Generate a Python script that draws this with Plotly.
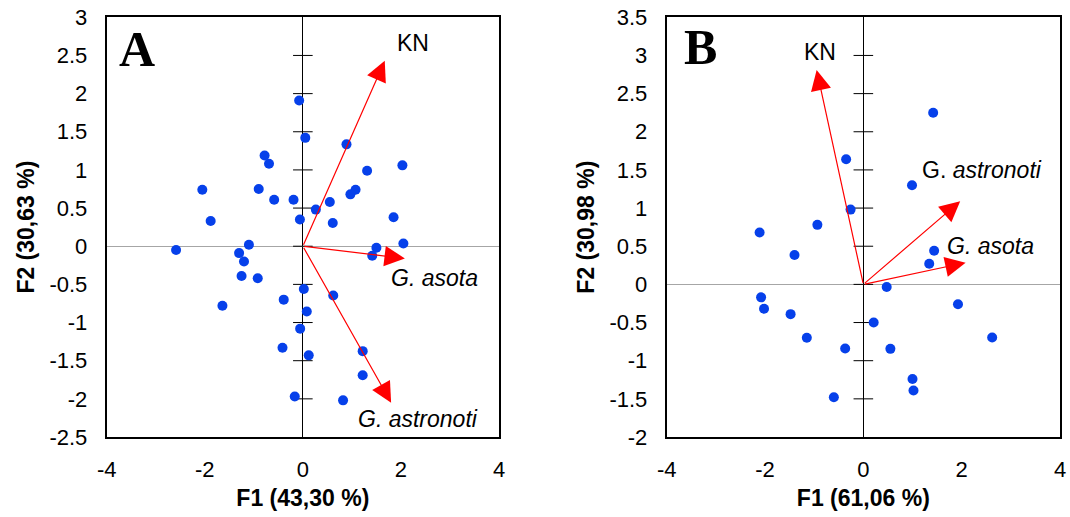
import numpy as np
import plotly.graph_objects as go

# ---- Panel A: observation scores ----
a_f1 = [-0.075, 0.05, 0.89, -0.78, -0.69, 2.03, 1.31, -2.05, -0.90, 1.075,
        0.97, -0.585, -0.19, 0.55, 0.265, -1.88, -0.06, 0.61, 1.85, 2.05,
        -2.585, -1.10, -1.30, -1.20, -1.25, -0.92, 1.50, 1.415, -1.64, 0.02,
        -0.39, 0.62, 0.08, -0.055, -0.415, 0.12, 1.22, 1.22, -0.165, 0.82]
a_f2 = [1.91, 1.42, 1.335, 1.19, 1.08, 1.06, 0.99, 0.74, 0.75, 0.74,
        0.68, 0.61, 0.61, 0.58, 0.48, 0.33, 0.35, 0.305, 0.38, 0.035,
        -0.05, 0.02, -0.09, -0.20, -0.39, -0.42, -0.02, -0.125, -0.78, -0.56,
        -0.70, -0.645, -0.855, -1.08, -1.33, -1.43, -1.375, -1.69, -1.97, -2.02]

# Panel A: variable loadings (arrows) and their labels
a_vec_names = ["KN", "<i>G. asota</i>", "<i>G. astronoti</i>"]
a_vec_f1 = [1.67, 2.08, 1.80]
a_vec_f2 = [2.43, -0.16, -2.05]
a_lab_f1 = [2.24, 2.69, 2.34]
a_lab_f2 = [2.66, -0.42, -2.26]

# ---- Panel B: observation scores ----
b_f1 = [1.42, -0.35, 0.99, -0.26, -0.935, -2.11, 1.44, -1.40, 1.34, 0.475,
        -2.08, -2.02, -1.48, 1.925, 0.21, -1.15, 2.62, -0.37, 0.55, 1.00,
        1.02, -0.60]
b_f2 = [2.25, 1.64, 1.30, 0.98, 0.78, 0.68, 0.44, 0.385, 0.27, -0.035,
        -0.17, -0.32, -0.39, -0.26, -0.50, -0.70, -0.695, -0.84, -0.845, -1.24,
        -1.39, -1.48]

b_vec_names = ["KN", "G. <i>astronoti</i>", "<i>G. asota</i>"]
b_vec_f1 = [-0.95, 1.97, 2.08]
b_vec_f2 = [2.81, 1.09, 0.285]
b_lab_f1 = [-0.89, 2.41, 2.58]
b_lab_f2 = [3.04, 1.50, 0.50]

# Axis settings
x_range = [-4, 4]
x_ticks = [-4, -2, 0, 2, 4]
a_y_range = [-2.5, 3]
b_y_range = [-2, 3.5]
a_title_x, a_title_y = "F1 (43,30 %)", "F2 (30,63 %)"
b_title_x, b_title_y = "F1 (61,06 %)", "F2 (30,98 %)"

FONT = "Liberation Sans, Arial, sans-serif"
SERIF = "Liberation Serif, Times New Roman, serif"
POINT_COLOR = "#0640ea"
ARROW_COLOR = "#ff0000"
TICK_SIZE = 22
TEXT_SIZE = 23


def tick_labels(values):
    # plain hyphen for negatives, as in spreadsheet-style axes
    return [f"{v:g}".replace("\u2212", "-") for v in values]


fig = go.Figure()

panels = [
    dict(xa="x", ya="y", f1=a_f1, f2=a_f2, vn=a_vec_names, vx=a_vec_f1, vy=a_vec_f2,
         lx=a_lab_f1, ly=a_lab_f2, yr=a_y_range),
    dict(xa="x2", ya="y2", f1=b_f1, f2=b_f2, vn=b_vec_names, vx=b_vec_f1, vy=b_vec_f2,
         lx=b_lab_f1, ly=b_lab_f2, yr=b_y_range),
]

for p in panels:
    # tick marks crossing the vertical axis at F1 = 0
    ticks = np.arange(p["yr"][0] + 0.5, p["yr"][1] - 0.25, 0.5)
    fig.add_trace(go.Scatter(
        x=[0] * len(ticks), y=ticks, xaxis=p["xa"], yaxis=p["ya"], mode="markers",
        marker=dict(symbol="line-ew", size=14, line=dict(width=1, color="black")),
        hoverinfo="skip", showlegend=False))
    # observation scores
    fig.add_trace(go.Scatter(
        x=p["f1"], y=p["f2"], xaxis=p["xa"], yaxis=p["ya"], mode="markers",
        marker=dict(size=10, color=POINT_COLOR), showlegend=False))
    # loading arrows from the origin
    for vx, vy in zip(p["vx"], p["vy"]):
        fig.add_annotation(
            x=vx, y=vy, xref=p["xa"], yref=p["ya"],
            ax=0, ay=0, axref=p["xa"], ayref=p["ya"],
            text="", showarrow=True, arrowhead=2, arrowsize=3.4, arrowwidth=1.2,
            arrowcolor=ARROW_COLOR, standoff=0, startstandoff=0)
    # loading labels
    for name, lx, ly in zip(p["vn"], p["lx"], p["ly"]):
        fig.add_annotation(
            x=lx, y=ly, xref=p["xa"], yref=p["ya"], text=name, showarrow=False,
            xanchor="center", yanchor="middle",
            font=dict(family=FONT, size=TEXT_SIZE, color="black"))

# Panel letters
for letter, px, py in [("A", 136.7, 49), ("B", 700, 47)]:
    fig.add_annotation(x=px / 1070, y=1 - py / 517, xref="paper", yref="paper",
                       text=f"<b>{letter}</b>", showarrow=False,
                       xanchor="center", yanchor="middle",
                       font=dict(family=SERIF, size=50, color="black"))

xaxis_common = dict(
    range=x_range, tickvals=x_ticks, ticktext=tick_labels(x_ticks),
    showgrid=False, zeroline=True, zerolinecolor="black",
    zerolinewidth=1, showline=True, linecolor="black", linewidth=2, mirror=True,
    ticks="outside", ticklen=12, tickcolor="rgba(0,0,0,0)",
    tickfont=dict(family=FONT, size=TICK_SIZE, color="black"),
    title_font=dict(family=FONT, size=TEXT_SIZE, color="black"), title_standoff=8,
    automargin=False,
)
yaxis_common = dict(
    showgrid=False, zeroline=True, zerolinecolor="#a6a6a6", zerolinewidth=1,
    showline=True, linecolor="black", linewidth=2, mirror=True,
    ticks="outside", ticklen=13, tickcolor="rgba(0,0,0,0)",
    tickfont=dict(family=FONT, size=TICK_SIZE, color="black"),
    title_font=dict(family=FONT, size=TEXT_SIZE, color="black"), title_standoff=8,
    automargin=False,
)

a_y_ticks = list(np.arange(a_y_range[0], a_y_range[1] + 0.01, 0.5))
b_y_ticks = list(np.arange(b_y_range[0], b_y_range[1] + 0.01, 0.5))

y_dom = [1 - 437 / 517, 1 - 17.3 / 517]
fig.update_layout(
    width=1070, height=517, margin=dict(l=0, r=0, t=0, b=0),
    paper_bgcolor="white", plot_bgcolor="white", showlegend=False,
    xaxis=dict(xaxis_common, domain=[106.7 / 1070, 499 / 1070], anchor="y",
               title_text=f"<b>{a_title_x}</b>"),
    yaxis=dict(yaxis_common, domain=y_dom, range=a_y_range, anchor="x",
               tickvals=a_y_ticks, ticktext=tick_labels(a_y_ticks),
               title_text=f"<b>{a_title_y}</b>"),
    xaxis2=dict(xaxis_common, domain=[666.7 / 1070, 1060 / 1070], anchor="y2",
                title_text=f"<b>{b_title_x}</b>"),
    yaxis2=dict(yaxis_common, domain=y_dom, range=b_y_range, anchor="x2",
                tickvals=b_y_ticks, ticktext=tick_labels(b_y_ticks),
                title_text=f"<b>{b_title_y}</b>"),
)

fig.write_html("out.html")
